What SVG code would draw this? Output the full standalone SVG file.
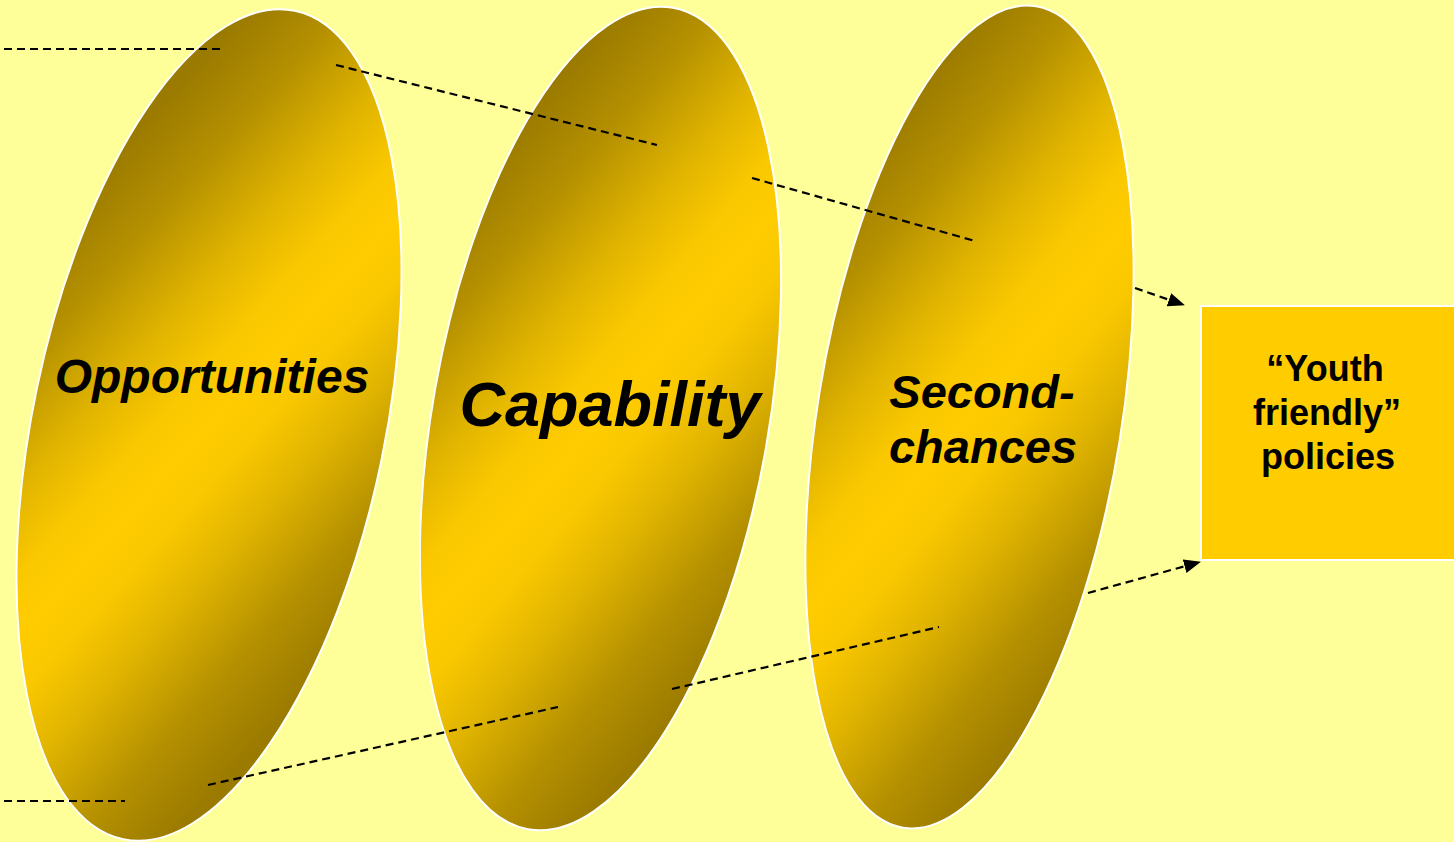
<svg xmlns="http://www.w3.org/2000/svg" width="1454" height="842" viewBox="0 0 1454 842">
<style>
.oval{stroke:#ffffff;stroke-width:2;fill:url(#g)}
.lbl{font-family:"Liberation Sans",Arial,sans-serif;font-weight:bold;font-style:italic;fill:#000;text-anchor:middle}
.box{font-family:"Liberation Sans",Arial,sans-serif;font-weight:bold;font-size:36px;fill:#000;text-anchor:middle}
.dash{stroke:#000;stroke-width:2.2;stroke-dasharray:8 5;fill:none}
</style>
<defs>
<linearGradient id="g" gradientUnits="userSpaceOnUse" x1="-218" y1="-128" x2="218" y2="128">
<stop offset="0" stop-color="#9a7a00"/>
<stop offset="0.14" stop-color="#b38f00"/>
<stop offset="0.3" stop-color="#dfb300"/>
<stop offset="0.42" stop-color="#fac800"/>
<stop offset="0.5" stop-color="#ffcc00"/>
<stop offset="0.58" stop-color="#fac800"/>
<stop offset="0.7" stop-color="#dfb300"/>
<stop offset="0.86" stop-color="#b38f00"/>
<stop offset="1" stop-color="#9a7a00"/>
</linearGradient>
<marker id="arr" markerWidth="17" markerHeight="14" refX="16" refY="7" orient="auto" markerUnits="userSpaceOnUse">
<path d="M0,0 L17,7 L0,14 Z" fill="#000"/>
</marker>
</defs>
<rect x="0" y="0" width="1454" height="842" fill="#ffff99"/>
<g id="opportunities">
<ellipse class="oval" cx="0" cy="0" rx="176" ry="423" transform="translate(209,425) rotate(11.7)"/>
<text class="lbl" x="212" y="393" font-size="48">Opportunities</text>
</g>
<g id="capability">
<ellipse class="oval" cx="0" cy="0" rx="168" ry="417" transform="translate(600.5,418.5) rotate(10)"/>
<text class="lbl" x="610" y="426" font-size="63">Capability</text>
</g>
<g id="second-chances">
<ellipse class="oval" cx="0" cy="0" rx="152" ry="416" transform="translate(969.5,417) rotate(9.2)"/>
<text class="lbl" x="982" y="408" font-size="47">Second-</text>
<text class="lbl" x="983" y="463" font-size="47">chances</text>
</g>
<g id="youth-friendly-policies">
<rect x="1201" y="306" width="260" height="254" fill="#ffcc00" stroke="#ffffff" stroke-width="2"/>
<text class="box" x="1325" y="381">“Youth</text>
<text class="box" x="1327" y="425">friendly”</text>
<text class="box" x="1328" y="469">policies</text>
</g>
<g id="connectors">
<line class="dash" x1="4" y1="49" x2="222" y2="49"/>
<line class="dash" x1="336" y1="65" x2="657" y2="145"/>
<line class="dash" x1="752" y1="178" x2="975" y2="241"/>
<line class="dash" x1="1135" y1="288" x2="1184" y2="305" marker-end="url(#arr)"/>
<line class="dash" x1="4" y1="801" x2="125" y2="801"/>
<line class="dash" x1="208" y1="785" x2="558" y2="707"/>
<line class="dash" x1="672" y1="689" x2="939" y2="627"/>
<line class="dash" x1="1088" y1="593" x2="1200" y2="562" marker-end="url(#arr)"/>
</g>
</svg>
